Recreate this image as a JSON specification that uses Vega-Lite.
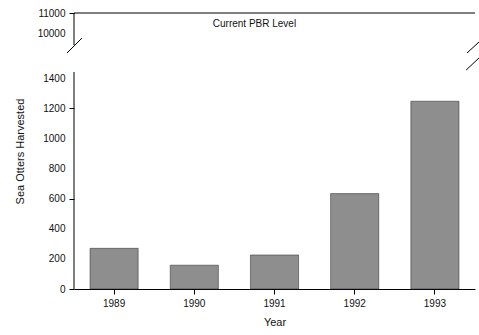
{
  "$schema": "https://vega.github.io/schema/vega-lite/v6.json",
  "width": 401,
  "height": 276,
  "autosize": {"type": "none"},
  "padding": {"left": 74, "top": 13, "right": 4, "bottom": 46},
  "background": "white",
  "config": {
    "view": {"stroke": null},
    "font": "Liberation Sans",
    "axis": {"grid": false, "labelColor": "#111", "titleColor": "#111", "domainColor": "#000", "titleFontWeight": "normal"},
    "axisY": {"labelOverlap": false, "labelFlush": false}
  },
  "layer": [
    {
      "data": {"values": [
        {"Year": "1989", "Harvested": 270},
        {"Year": "1990", "Harvested": 158},
        {"Year": "1991", "Harvested": 226},
        {"Year": "1992", "Harvested": 633},
        {"Year": "1993", "Harvested": 1246}
      ]},
      "mark": {"type": "bar", "fill": "#8e8e8e", "stroke": "#222", "strokeWidth": 0.5},
      "encoding": {
        "x": {
          "field": "Year", "type": "ordinal",
          "scale": {"paddingInner": 0.4, "paddingOuter": 0.2},
          "axis": {"title": "Year", "labelAngle": 0, "labelFontSize": 10, "titleFontSize": 11, "tickSize": 5, "tickColor": "#000", "labelPadding": 4, "titlePadding": 8, "domainWidth": 1}
        },
        "y": {
          "field": "Harvested", "type": "quantitative",
          "scale": {"type": "linear", "domain": [0, 1440, 9400, 11000], "range": [276, 59, 32, 0], "nice": false, "zero": false},
          "axis": {
            "title": "Sea Otters Harvested",
            "values": [0, 200, 400, 600, 800, 1000, 1200, 1400, 10000, 11000],
            "format": "d",
            "domain": false,
            "tickSize": 5,
            "tickColor": {"condition": {"test": "datum.value == 0 || datum.value == 600 || datum.value == 1200 || datum.value == 11000", "value": "#000"}, "value": "transparent"},
            "labelFontSize": 10,
            "labelPadding": 4,
            "labelOverlap": false,
            "labelFlush": false,
            "titleFontSize": 11,
            "titlePadding": 12
          }
        }
      }
    },
    {
      "data": {"values": [
        {"part": "axis-low", "x1": 0, "x2": 0, "y1": 0, "y2": 1440},
        {"part": "axis-high", "x1": 0, "x2": 0, "y1": 9400, "y2": 11000},
        {"part": "pbr", "x1": 0, "x2": 1, "y1": 11000, "y2": 11000},
        {"part": "break-left", "x1": -0.0175, "x2": 0.02, "y1": 7041, "y2": 9750},
        {"part": "break-right-1", "x1": 0.98, "x2": 1.01, "y1": 7041, "y2": 9550},
        {"part": "break-right-2", "x1": 0.978, "x2": 1.01, "y1": 2030, "y2": 5567}
      ]},
      "mark": {"type": "rule", "color": "#000", "strokeWidth": 1, "clip": false},
      "encoding": {
        "x": {"field": "x1", "type": "quantitative", "scale": {"domain": [0, 1], "nice": false, "zero": false}, "axis": null},
        "x2": {"field": "x2"},
        "y": {
          "field": "y1", "type": "quantitative",
          "scale": {"type": "linear", "domain": [0, 1440, 9400, 11000], "range": [276, 59, 32, 0], "nice": false, "zero": false},
          "axis": {
            "title": "Sea Otters Harvested",
            "values": [0, 200, 400, 600, 800, 1000, 1200, 1400, 10000, 11000],
            "format": "d",
            "domain": false,
            "tickSize": 5,
            "tickColor": {"condition": {"test": "datum.value == 0 || datum.value == 600 || datum.value == 1200 || datum.value == 11000", "value": "#000"}, "value": "transparent"},
            "labelFontSize": 10,
            "labelPadding": 4,
            "labelOverlap": false,
            "labelFlush": false,
            "titleFontSize": 11,
            "titlePadding": 12
          }
        },
        "y2": {"field": "y2"}
      }
    },
    {
      "data": {"values": [{"label": "Current PBR Level", "px": 0.45, "py": 10450}]},
      "mark": {"type": "text", "fontSize": 10, "color": "#111", "align": "center", "baseline": "middle"},
      "encoding": {
        "x": {"field": "px", "type": "quantitative", "scale": {"domain": [0, 1], "nice": false, "zero": false}, "axis": null},
        "y": {
          "field": "py", "type": "quantitative",
          "scale": {"type": "linear", "domain": [0, 1440, 9400, 11000], "range": [276, 59, 32, 0], "nice": false, "zero": false},
          "axis": {
            "title": "Sea Otters Harvested",
            "values": [0, 200, 400, 600, 800, 1000, 1200, 1400, 10000, 11000],
            "format": "d",
            "domain": false,
            "tickSize": 5,
            "tickColor": {"condition": {"test": "datum.value == 0 || datum.value == 600 || datum.value == 1200 || datum.value == 11000", "value": "#000"}, "value": "transparent"},
            "labelFontSize": 10,
            "labelPadding": 4,
            "labelOverlap": false,
            "labelFlush": false,
            "titleFontSize": 11,
            "titlePadding": 12
          }
        },
        "text": {"field": "label"}
      }
    }
  ],
  "resolve": {"scale": {"x": "independent"}, "axis": {"x": "independent"}}
}
